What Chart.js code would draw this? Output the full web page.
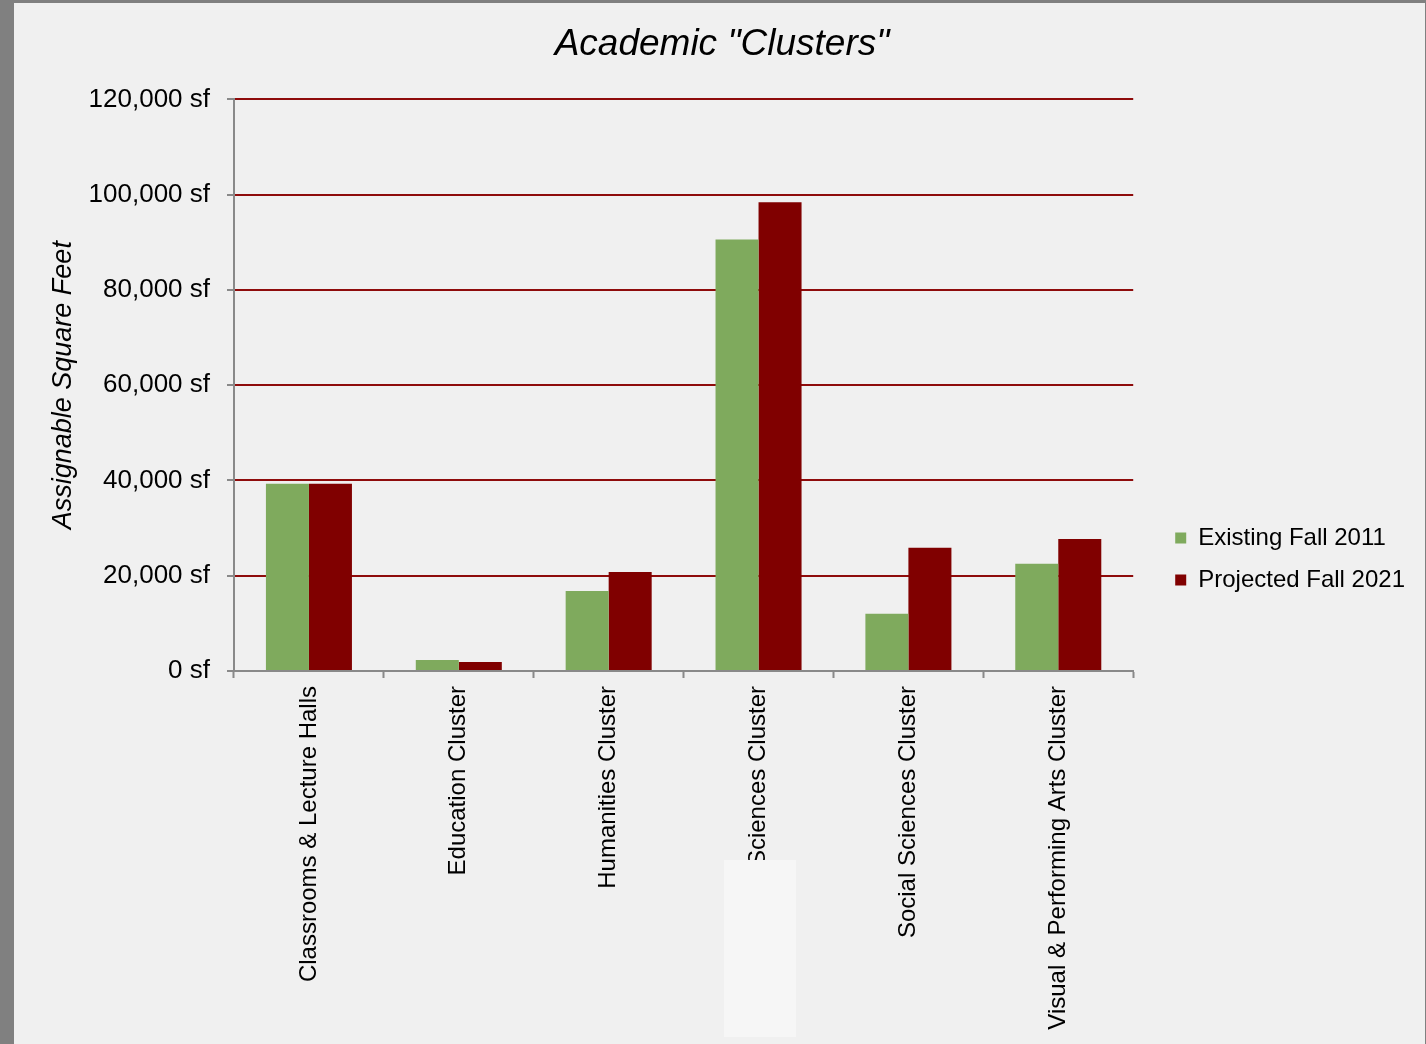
<!DOCTYPE html>
<html>
<head>
<meta charset="utf-8">
<script src="https://cdn.jsdelivr.net/npm/chart.js@4"></script>
<style>
  html, body { margin: 0; padding: 0; background: #808080; overflow: hidden; width: 1426px; height: 1044px; }
  #wrap { position: absolute; left: 14px; top: 3px; width: 1411px; height: 1112px; background: #f0f0f0; }
  #patch { position: absolute; left: 724px; top: 860px; width: 72px; height: 177px; background: #f6f6f6; }
</style>
</head>
<body>
<div id="wrap"><canvas id="clusterChart" width="1411" height="1112"></canvas></div>
<div id="patch"></div>
<script>
    // dati
    const categories = ['Classrooms & Lecture Halls', 'Education Cluster', 'Humanities Cluster',
        'Sciences Cluster', 'Social Sciences Cluster', 'Visual & Performing Arts Cluster'];
    const existing2011 = [39300, 2300, 16800, 90600, 12000, 22500];
    const projected2021 = [39300, 1900, 20800, 98400, 25900, 27700];
    const seriesNames = ['Existing Fall 2011', 'Projected Fall 2021'];
    const yTicks = [0, 20000, 40000, 60000, 80000, 100000, 120000];

    const font = '"Liberation Sans", Arial, sans-serif';
    const axisGray = '#898989';

    const ctx = document.getElementById('clusterChart').getContext('2d');

    const clusterChart = new Chart(ctx, {
        type: 'bar',
        data: {
            labels: categories,
            datasets: [{
                label: seriesNames[0],
                data: existing2011,
                backgroundColor: '#7faa5d',
                categoryPercentage: 0.574,
                barPercentage: 1
            }, {
                label: seriesNames[1],
                data: projected2021,
                backgroundColor: '#800000',
                categoryPercentage: 0.574,
                barPercentage: 1
            }]
        },
        options: {
            responsive: false,
            animation: false,
            layout: { padding: { left: 15, right: 10, top: 0, bottom: 0 } },
            plugins: {
                tooltip: { enabled: false },
                title: {
                    display: true,
                    text: 'Academic "Clusters"',
                    color: '#000',
                    font: { family: font, size: 37, style: 'italic', weight: 'normal' },
                    padding: { top: 20, bottom: 32 }
                },
                legend: {
                    position: 'right',
                    maxWidth: 320,
                    labels: {
                        boxWidth: 11,
                        boxHeight: 11,
                        padding: 18,
                        color: '#000',
                        font: { family: font, size: 24 }
                    }
                }
            },
            scales: {
                x: {
                    grid: {
                        drawOnChartArea: false,
                        tickLength: 7,
                        tickColor: axisGray,
                        tickWidth: 2
                    },
                    border: { color: axisGray, width: 2 },
                    ticks: {
                        color: '#000',
                        font: { family: font, size: 24 },
                        minRotation: 90,
                        maxRotation: 90,
                        padding: 8,
                        autoSkip: false
                    },
                    afterFit: function(scale) { scale.height = 444; }
                },
                y: {
                    min: 0,
                    max: 120000,
                    afterBuildTicks: function(scale) {
                        scale.ticks = yTicks.map(v => ({ value: v }));
                    },
                    grid: {
                        color: c => (c.tick && c.tick.value === 0) ? 'rgba(0,0,0,0)' : '#8e0b0b',
                        lineWidth: 2,
                        tickLength: 7,
                        tickColor: axisGray,
                        tickWidth: 2
                    },
                    border: { color: axisGray, width: 2 },
                    ticks: {
                        color: '#000',
                        padding: 17,
                        font: { family: font, size: 26 },
                        callback: v => v.toLocaleString('en-US') + ' sf'
                    },
                    title: {
                        display: true,
                        text: 'Assignable Square Feet',
                        color: '#000',
                        font: { family: font, size: 27, style: 'italic' },
                        padding: { top: 18, bottom: 0 }
                    },
                    afterFit: function(scale) { scale.width = 205; }
                },
                // spazio vuoto tra grafico e legenda
                gap: {
                    type: 'linear',
                    position: 'right',
                    display: true,
                    grid: { display: false },
                    border: { display: false },
                    ticks: { display: false },
                    afterFit: function(scale) { scale.width = 24; }
                }
            }
        }
    });
</script>
</body>
</html>
